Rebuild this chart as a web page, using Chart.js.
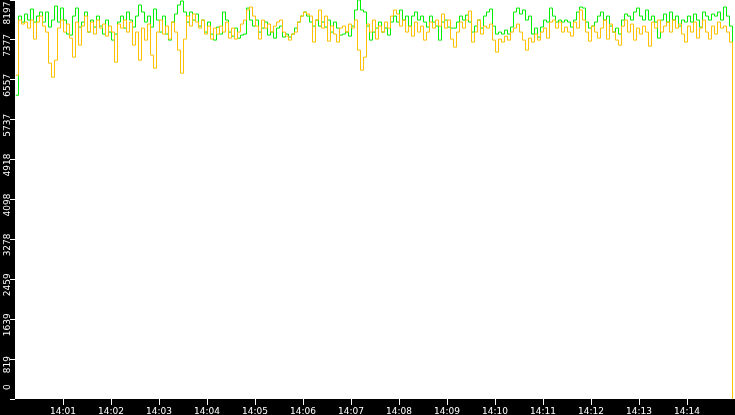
<!DOCTYPE html>
<html>
<head>
<meta charset="utf-8">
<script src="https://cdn.jsdelivr.net/npm/chart.js@4/dist/chart.umd.min.js"></script>
<style>
html,body{margin:0;padding:0;background:#000;overflow:hidden;}
#c{display:block;}
</style>
</head>
<body>
<canvas id="c" width="735" height="415"></canvas>
<script>
// ---- data ----
const sampleStepSec = 3.75;          // seconds between samples, starting 14:00:00
const xMinSec = 0, xMaxSec = 900;    // 14:00:00 .. 14:15:00
const xTickSeconds = [60,120,180,240,300,360,420,480,540,600,660,720,780,840];
const xTickLabels = ['14:01','14:02','14:03','14:04','14:05','14:06','14:07','14:08','14:09','14:10','14:11','14:12','14:13','14:14'];
const yMax = 8197;
const yTickValues = [0,819.7,1639.4,2459.1,3278.8,4098.5,4918.2,5737.9,6557.6,7377.3,8197];
const yTickLabels = ['0','819','1639','2459','3278','4098','4918','5737','6557','7377','8197'];

const yellowSeries = [
6652,7785,7703,7744,7620,7785,7394,7744,7867,7661,7538,6899,6611,6961,7620,7785,7538,7703,7414,7023,7744,7270,7661,7867,7538,7744,7497,7785,7620,7703,7455,
7661,7538,6920,7703,7620,7785,7538,7744,7270,7538,6961,7620,7373,7703,7064,6796,7538,7785,7497,7661,7394,7744,7538,7167,6693,7394,7867,7661,7909,7744,7620,7785,7497,7661,7394,7620,7497,7661,7538,7744,7414,7620,7394,7538,7703,7785,7991,8053,
7867,7661,7394,7785,7620,7703,7538,7661,7744,7785,7538,7455,7373,7497,7538,7744,7867,7950,7909,7867,7332,7785,7991,7620,7867,7352,7661,7497,7332,7620,7661,7538,7703,
7620,7785,7167,6755,7023,7703,7538,7785,7394,7661,7538,7744,7620,7867,7991,7909,7661,7785,7538,7661,7455,7744,7538,7661,7373,7538,7744,7620,7785,7661,7909,7620,7785,7394,
7229,7538,7744,7620,7785,7970,7332,7538,7785,7497,7661,7620,7703,7373,7126,7394,7332,7455,7373,7538,7620,7703,7538,7373,7167,7414,7332,7497,7373,7538,7620,7414,7744,7785,7620,7744,7538,7641,
7538,7455,7744,7620,7991,7785,7538,7352,7661,7538,7414,7620,7785,7394,7703,7538,7373,7270,7661,7785,7538,7703,7373,7620,7497,7661,7538,7249,7744,7620,7785,7538,7661,7744,7538,7785,7620,7703,7497,7332,7661,7538,7744,7414,7620,7785,7538,7394,7661,7497,7744,7620,7661,7538,7332,0
];

const greenSeries = [
6240,7867,7744,7909,7785,8012,7744,7867,7950,7744,7950,7641,7785,8073,7744,8032,7785,7497,7476,7867,8032,7641,7744,7950,7538,7785,7641,7867,7661,7497,7785,
7538,7373,7497,7744,7867,7620,7950,7785,7641,7867,8094,7950,7744,7867,7641,8012,7785,7538,7867,7497,7373,7744,7909,8094,8176,7950,7744,7950,7785,7909,7661,7785,7538,7744,7497,7373,7641,7497,7950,7785,7538,7455,7620,7414,7476,7497,8032,7785,
7661,7785,7538,7620,7744,7476,7538,7414,7620,7661,7435,7497,7435,7497,7620,7744,7867,7950,7867,7744,7661,7785,7661,7744,7641,7785,7538,7744,7620,7476,7497,7538,7455,
7661,7991,8197,7991,7950,7661,7373,7538,7620,7744,7538,7620,7476,7744,7867,7744,7991,7785,7867,7661,7867,7950,7785,7867,7744,7641,7867,7744,7661,7373,7744,7785,7641,7620,
7620,7744,7867,7785,7888,7744,7538,7661,7785,7620,7867,7950,8012,7661,7497,7538,7497,7579,7497,7641,7950,8032,7909,7991,7785,7867,7497,7620,7435,7641,7785,7744,8032,7867,7744,7785,7744,7785,
7744,7641,7785,7950,8053,8032,7744,7620,7661,7744,7867,7950,7785,7867,7661,7538,7620,7497,7785,7909,7867,7785,7950,8032,7867,7785,7991,7785,7867,7744,7414,7785,7909,7744,7950,7785,7867,7661,7785,7744,7867,7744,7909,7785,7641,7950,7867,7785,7909,7867,7950,7785,8053,7867,7661,3768
];

// ---- chart ----
const toPoints = arr => arr.map((v, i) => ({ x: xMinSec + i * sampleStepSec, y: v }));

const bgPlugin = {
  id: 'bg',
  beforeDraw(chart) {
    const { ctx, chartArea: a } = chart;
    ctx.save();
    ctx.fillStyle = '#000';
    ctx.fillRect(0, 0, chart.width, chart.height);
    ctx.fillStyle = '#fff';
    ctx.fillRect(a.left, a.top, a.right - a.left, a.bottom - a.top);
    ctx.restore();
  }
};

const crispPlugin = {
  id: 'crisp',
  beforeDatasetsDraw(chart) { chart.ctx.save(); chart.ctx.translate(0.5, 0); },
  afterDatasetsDraw(chart) { chart.ctx.restore(); }
};

const yLabelPlugin = {
  id: 'ylabels',
  afterDraw(chart) {
    const { ctx } = chart;
    const s = chart.scales.y;
    ctx.save();
    ctx.font = '9px "DejaVu Sans"';
    ctx.fillStyle = '#fff';
    ctx.textAlign = 'center';
    ctx.textBaseline = 'alphabetic';
    yTickValues.forEach((v, i) => {
      const py = s.getPixelForValue(v);
      const w = ctx.measureText(yTickLabels[i]).width;
      let c = py + 5.5;
      c = Math.max(c, w / 2 + 1.5);
      c = Math.min(c, 390 - w / 2);
      ctx.save();
      ctx.translate(9.5, c);
      ctx.rotate(-Math.PI / 2);
      ctx.fillText(yTickLabels[i], 0, 0);
      ctx.restore();
    });
    ctx.restore();
  }
};

new Chart(document.getElementById('c'), {
  type: 'line',
  data: {
    datasets: [
      { label: 'yellow', data: toPoints(yellowSeries), borderColor: '#ffc000', borderWidth: 1, pointRadius: 0, stepped: true, fill: false },
      { label: 'green',  data: toPoints(greenSeries),  borderColor: '#00ee00', borderWidth: 1, pointRadius: 0, stepped: true, fill: false }
    ]
  },
  options: {
    responsive: false,
    animation: false,
    devicePixelRatio: 1,
    layout: { padding: 0 },
    plugins: { legend: { display: false }, tooltip: { enabled: false } },
    scales: {
      x: {
        type: 'linear', min: xMinSec, max: xMaxSec,
        border: { display: false },
        grid: { drawOnChartArea: false, drawTicks: true, tickLength: 6, tickColor: '#fff', tickWidth: 1 },
        ticks: {
          color: '#fff', font: { family: 'DejaVu Sans', size: 9 }, padding: 1,
          maxRotation: 0, minRotation: 0, autoSkip: false,
          callback: (v, i) => xTickLabels[i]
        },
        afterBuildTicks: s => { s.ticks = xTickSeconds.map(v => ({ value: v })); },
        afterFit: s => { s.height = 16; }
      },
      y: {
        type: 'linear', min: 0, max: yMax,
        border: { display: false },
        grid: { drawOnChartArea: false, drawTicks: true, tickLength: 5, tickColor: '#fff', tickWidth: 1 },
        ticks: { display: false },
        afterBuildTicks: s => { s.ticks = yTickValues.map(v => ({ value: v })); },
        afterFit: s => { s.width = 15; }
      }
    }
  },
  plugins: [bgPlugin, crispPlugin, yLabelPlugin]
});
</script>
</body>
</html>
